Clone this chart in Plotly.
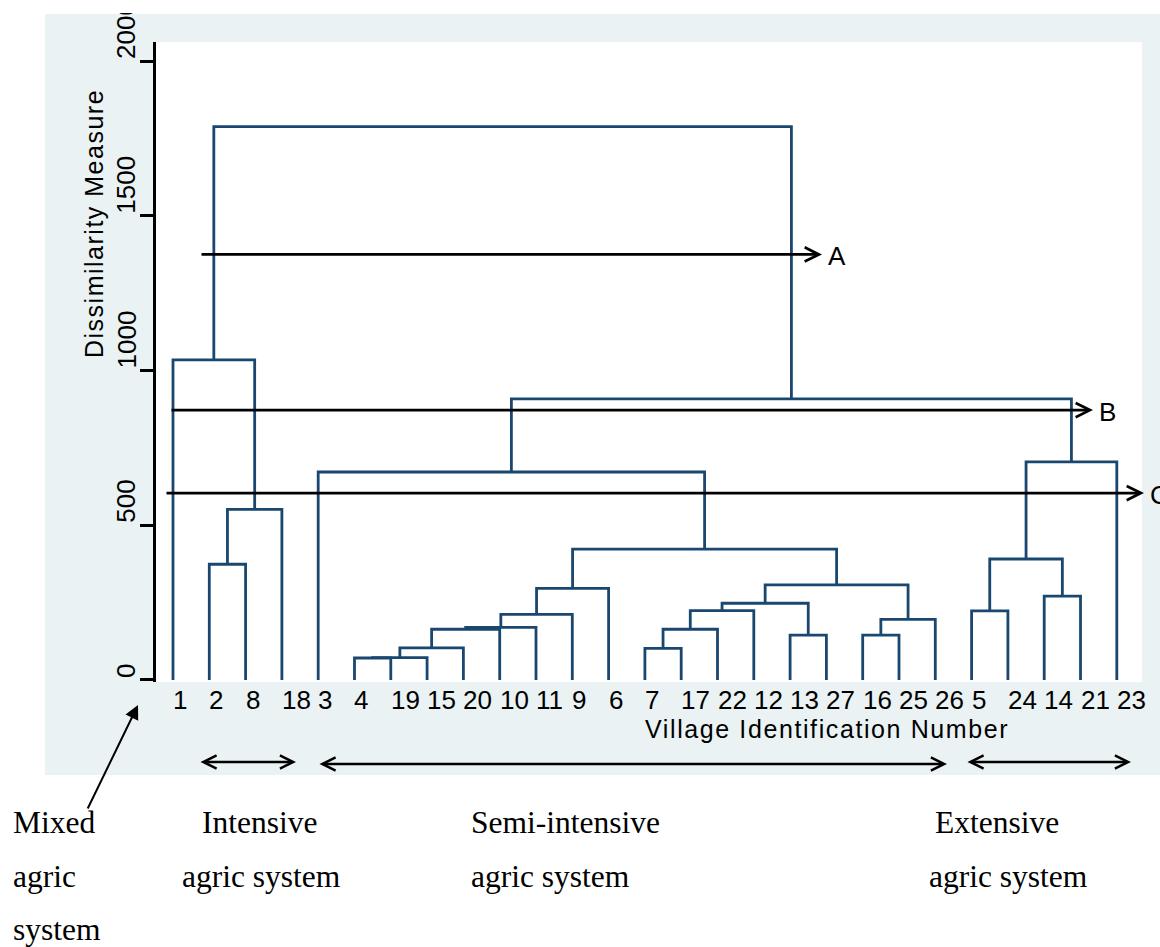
import plotly.graph_objects as go

# ---------------- data ----------------
leaf_labels = ["1", "2", "8", "18", "3", "4", "19", "15", "20", "10", "11", "9", "6",
               "7", "17", "22", "12", "13", "27", "16", "25", "26", "5", "24", "14", "21", "23"]

# agglomeration steps: cluster "c<k>" is created by step k
merge_left = ["2", "c0", "1", "4", "c3", "c4", "c5", "c6", "c7", "c8", "7", "c10", "c11",
              "13", "c12", "16", "c15", "c14", "c9", "3", "5", "14", "c20", "c22", "c19", "c2"]
merge_right = ["8", "18", "c1", "19", "15", "20", "10", "11", "9", "6", "17", "22", "12",
               "27", "c13", "25", "26", "c16", "c17", "c18", "24", "21", "c21", "23", "c23", "c24"]
merge_height = [374, 551, 1034, 71, 72, 104, 164, 170, 212, 296, 102, 164, 224,
                145, 248, 145, 196, 307, 423, 672, 223, 271, 391, 705, 908, 1788]

y_ticks = [0, 500, 1000, 1500, 2000]

cut_labels = ["A", "B", "C"]
cut_levels = [1375, 872, 604]

group_lines = [["Mixed", "agric", "system"],
               ["Intensive", "agric system"],
               ["Semi-intensive", "agric system"],
               ["Extensive", "agric system"]]

# ---------------- geometry / style ----------------
W, H = 1160, 947
L, R, T, B = 156, 1142, 42, 682
PW, PH = R - L, B - T
NAVY = "#1A476F"
PANEL = "#EAF2F3"
SANS = "Liberation Sans, Arial, sans-serif"
SERIF = "Liberation Serif, Times New Roman, serif"


def px(xp):
    return (xp - L) / PW


def py(yp):
    return (B - yp) / PH


# ---------------- dendrogram segments ----------------
node_x = {lab: i + 1 for i, lab in enumerate(leaf_labels)}
node_h = {lab: 0 for lab in leaf_labels}
xs, ys = [], []
for k, (a, b, h) in enumerate(zip(merge_left, merge_right, merge_height)):
    xa, xb = node_x[a], node_x[b]
    xs += [xa, xa, xb, xb, None]
    ys += [node_h[a], h, h, node_h[b], None]
    node_x["c%d" % k] = (xa + xb) / 2
    node_h["c%d" % k] = h

fig = go.Figure()
fig.add_trace(go.Scatter(x=xs, y=ys, mode="lines",
                         line=dict(color=NAVY, width=2.8),
                         hoverinfo="skip", showlegend=False))

n = len(leaf_labels)
fig.update_xaxes(range=[0.532, n + 0.694], showgrid=False, zeroline=False,
                 showline=False, showticklabels=False, ticks="")
fig.update_yaxes(range=[-6.5, 2061.4], showgrid=False, zeroline=False,
                 showline=True, linecolor="black", linewidth=2.5,
                 ticks="outside", ticklen=13, tickwidth=2.5, tickcolor="black",
                 tickvals=y_ticks, showticklabels=False)

ann = []

# y tick labels (rotated, starting at the tick)
for v in y_ticks:
    d = dict(x=px(126), xref="paper", xanchor="center",
             y=v, yref="y", yanchor="bottom",
             text=str(v), textangle=-90, showarrow=False,
             font=dict(family=SANS, size=26, color="black"))
    if v == max(y_ticks):
        d.update(width=46, align="left")
    ann.append(d)

# leaf labels
for i, lab in enumerate(leaf_labels):
    ann.append(dict(x=i + 1, xref="x", xanchor="left", xshift=-2,
                    y=0, yref="paper", yanchor="middle", yshift=-18,
                    text=lab, showarrow=False,
                    font=dict(family=SANS, size=26, color="black")))

# axis titles
ann.append(dict(x=px(643), xref="paper", xanchor="left",
                y=py(729), yref="paper", yanchor="middle",
                text='<span style="letter-spacing:1.6px">Village Identification Number</span>',
                showarrow=False, font=dict(family=SANS, size=25, color="black")))
ann.append(dict(x=px(94), xref="paper", xanchor="center",
                y=py(224), yref="paper", yanchor="middle", textangle=-90,
                text='<span style="letter-spacing:1.5px">Dissimilarity Measure</span>',
                showarrow=False, font=dict(family=SANS, size=25, color="black")))

# cut-level arrows A, B, C
cut_tail_px = [200, 170, 165]
cut_tip_px = [822, 1093, 1144]
for lab, lev, t0, t1 in zip(cut_labels, cut_levels, cut_tail_px, cut_tip_px):
    ann.append(dict(x=px(t1), xref="paper", y=lev, yref="y",
                    ax=t0 - t1, ay=0, axref="pixel", ayref="pixel",
                    text="", showarrow=True, arrowhead=5, arrowsize=1.0,
                    arrowwidth=2.8, arrowcolor="black"))
    ann.append(dict(x=px(t1 + 4), xref="paper", xanchor="left",
                    y=lev, yref="y", yanchor="middle", yshift=-2,
                    text=lab, showarrow=False,
                    font=dict(family=SANS, size=26, color="black")))

# group extent double arrows
spans = [(199, 296, 762), (318, 947, 764), (966, 1131, 762)]
for a0, a1, yy in spans:
    ann.append(dict(x=px(a1), xref="paper", y=py(yy), yref="paper",
                    ax=a0 - a1, ay=0, axref="pixel", ayref="pixel",
                    text="", showarrow=True, arrowside="end+start",
                    arrowhead=5, startarrowhead=5, arrowsize=1.0, startarrowsize=1.0,
                    arrowwidth=2.6, arrowcolor="black"))

# pointer for the mixed system
ann.append(dict(x=px(138), xref="paper", y=py(705), yref="paper",
                ax=87 - 138, ay=810 - 705, axref="pixel", ayref="pixel",
                text="", showarrow=True, arrowhead=2, arrowsize=1.4,
                arrowwidth=2, arrowcolor="black"))

# group names
group_left_px = [[13, 13, 13], [202, 182], [471, 471], [935, 929]]
line_centers = [822, 876, 929]
for lines, lefts in zip(group_lines, group_left_px):
    for j, (txt, lx) in enumerate(zip(lines, lefts)):
        ann.append(dict(x=px(lx - 2), xref="paper", xanchor="left",
                        y=py(line_centers[j]), yref="paper", yanchor="middle",
                        text=txt, showarrow=False,
                        font=dict(family=SERIF, size=31.5, color="black")))

shapes = [
    dict(type="rect", xref="paper", yref="paper", layer="below",
         x0=px(45), x1=px(1170), y0=py(775), y1=py(14),
         fillcolor=PANEL, line=dict(width=0)),
    dict(type="rect", xref="paper", yref="paper", layer="below",
         x0=0, x1=1, y0=0, y1=1, fillcolor="white", line=dict(width=0)),
]

fig.update_layout(width=W, height=H, autosize=False,
                  margin=dict(l=L, r=W - R, t=T, b=H - B, pad=0),
                  paper_bgcolor="white", plot_bgcolor="white",
                  showlegend=False, annotations=ann, shapes=shapes)

fig.write_html("out.html")
